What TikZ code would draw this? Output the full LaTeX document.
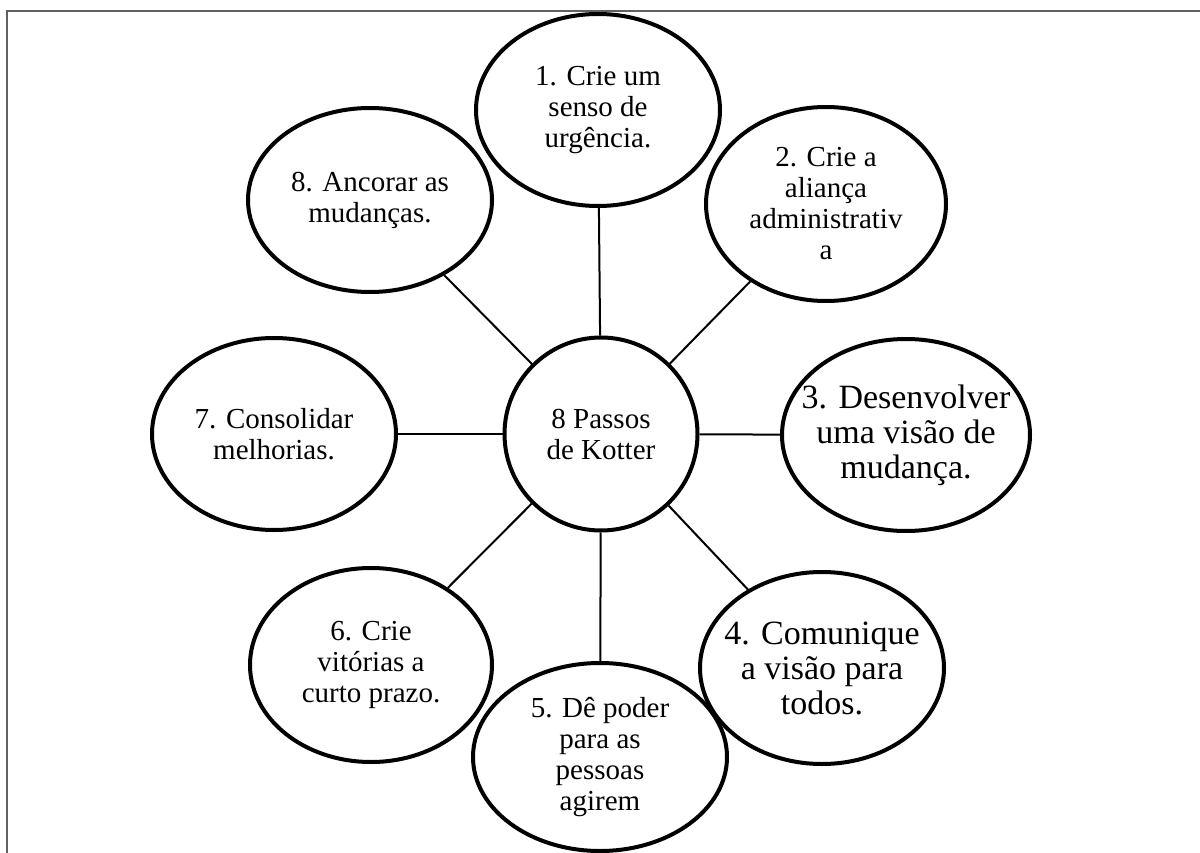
\documentclass[tikz,border=0pt]{standalone}
\usepackage{fontspec}
\setmainfont{Liberation Serif}
\usetikzlibrary{shapes.geometric}
\begin{document}
\begin{tikzpicture}[x=1pt,y=-1pt,
  stepbox/.style={ellipse, draw=black, line width=4pt, inner sep=0pt,
    minimum width=244pt, minimum height=192pt, align=center,
    font=\fontsize{29}{31}\selectfont},
  % larger lettering; the negative sep keeps the outline at its set size
  bigtext/.style={font=\fontsize{34}{35}\selectfont, inner xsep=-30pt},
  hub/.style={circle, draw=black, line width=4pt, inner sep=0pt,
    minimum size=193pt, align=center, font=\fontsize{29}{31}\selectfont},
  spoke/.style={draw=black, line width=2pt},
  frameline/.style={draw=black!62, line width=2pt}]
\useasboundingbox (0,0) rectangle (1200,853);
% open frame: top and left edges
\draw[frameline] (7,853) -- (7,11) -- (1200,11);

\node[hub] (c) at (601,434) {8 Passos\\de Kotter};

\node[stepbox] (e1) at (598,110) {1. Crie um\\senso de\\urgência.};
\node[stepbox, minimum width=240pt, minimum height=194pt] (e2) at (826,204) {2. Crie a\\aliança\\administrativ\\a};
\node[stepbox, bigtext, minimum width=248pt] (e3) at (906,435) {3. Desenvolver\\uma visão de\\mudança.};
\node[stepbox, bigtext] (e4) at (822,668) {4. Comunique\\a visão para\\todos.};
\node[stepbox, minimum width=254pt, minimum height=188pt] (e5) at (600,757) {5. Dê poder\\para as\\pessoas\\agirem};
\node[stepbox, minimum width=242pt, minimum height=194pt] (e6) at (371,665) {6. Crie\\vitórias a\\curto prazo.};
\node[stepbox] (e7) at (274,434) {7. Consolidar\\melhorias.};
\node[stepbox, minimum height=184pt] (e8) at (370,200) {8. Ancorar as\\mudanças.};

% spokes from the hub to every step
\foreach \e in {e1,e2,e3,e4,e5,e6,e7,e8}
  \draw[spoke] (c) -- (\e);
\end{tikzpicture}
\end{document}
